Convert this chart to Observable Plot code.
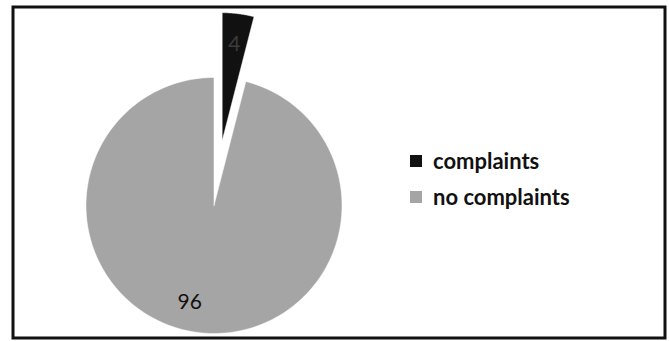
<!DOCTYPE html>
<html><head><meta charset="utf-8">
<script src="https://cdn.jsdelivr.net/npm/d3@7"></script>
<script src="https://cdn.jsdelivr.net/npm/@observablehq/plot@0.6"></script>
<style>
html,body{margin:0;padding:0;background:#fff;}
#wrap{position:relative;width:669px;height:341px;font-family:Lato,sans-serif;}
#legend{position:absolute;left:410px;top:143px;}
#legend > div > div{height:35px;display:flex;align-items:center;}
</style></head>
<body><div id="wrap"><div id="chart"></div><div id="legend"></div></div>
<script>
const categories = ["complaints", "no complaints"];
const values = [4, 96];
const labels = ["4", "96"];
const colors = ["#111111", "#a5a5a5"];

const explode = [0.51, 0];
const pie = d3.pie().sort(null).value(d => d)(values);
const pts = [];
const labs = [];
pie.forEach((s, i) => {
  const mid = (s.startAngle + s.endAngle) / 2;
  const ox = explode[i] * Math.sin(mid), oy = explode[i] * Math.cos(mid);
  pts.push({cat: categories[i], x: ox, y: oy});
  const n = 200;
  for (let k = 0; k <= n; k++) {
    const a = s.startAngle + (s.endAngle - s.startAngle) * k / n;
    pts.push({cat: categories[i], x: ox + Math.sin(a), y: oy + Math.cos(a)});
  }
  pts.push({cat: categories[i], x: ox, y: oy});
  const lr = 0.76;
  labs.push({text: labels[i], x: ox + lr * Math.sin(mid), y: oy + lr * Math.cos(mid), i});
});

const W = 669, H = 341;
const mL = 12.5, mT = 6.5, mR = 4.5, mB = 3.5;
const cx = 213.5, cy = 205, R = 128;
const chart = Plot.plot({
  width: W, height: H,
  marginLeft: mL, marginTop: mT, marginRight: mR, marginBottom: mB,
  x: {domain: [(mL - cx) / R, (W - mR - cx) / R], axis: null},
  y: {domain: [(cy - (H - mB)) / R, (cy - mT) / R], axis: null},
  color: {domain: categories, range: colors},
  style: {fontFamily: "Lato, sans-serif"},
  marks: [
    Plot.line(pts, {x: "x", y: "y", z: "cat", fill: "cat", stroke: "white", strokeWidth: 0.5, curve: "linear"}),
    Plot.text(labs.filter(d => d.i === 0), {x: "x", y: "y", text: "text", fontSize: 21, fill: "#3c3c3c"}),
    Plot.text(labs.filter(d => d.i === 1), {x: "x", y: "y", text: "text", fontSize: 21, fill: "#111", dx: -12}),
    Plot.frame({stroke: "#111", strokeWidth: 3})
  ]
});
document.getElementById("chart").appendChild(chart);

const leg = Plot.legend({
  color: {domain: categories, range: colors},
  legend: "swatches", columns: 1, swatchSize: 12,
  style: {fontFamily: "Lato, sans-serif", fontSize: "22px", fontWeight: "bold", color: "#111"}
});
document.getElementById("legend").appendChild(leg);
</script></body></html>
